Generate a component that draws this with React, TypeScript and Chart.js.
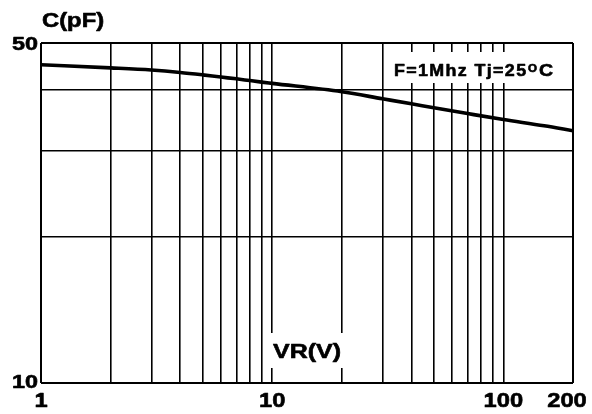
import React, { useEffect, useRef } from "react";
import { Chart, registerables } from "chart.js";

Chart.register(...registerables);

// Data (log-log capacitance curve)
const voltages = [1, 2, 3, 4, 5, 6, 7, 8, 9, 10, 20, 30, 40, 50, 70, 100, 150, 200];
const capacitance = [45.1, 44.45, 44.0, 43.5, 43.0, 42.55, 42.2, 41.85, 41.55, 41.3, 39.7, 38.4, 37.5, 36.8, 35.8, 34.8, 33.8, 33.0];

const xGridValues = [1, 2, 3, 4, 5, 6, 7, 8, 9, 10, 20, 30, 40, 50, 60, 70, 80, 90, 100, 200];
const yGridValues = [10, 20, 30, 40, 50];
const xTickLabels = [1, 10, 100, 200];
const yTickLabels = [10, 50];

const FONT = '"Liberation Sans", Arial, Helvetica, sans-serif';

function drawText(
  ctx: CanvasRenderingContext2D,
  text: string,
  x: number,
  y: number,
  size: number,
  stretch: number,
  align: "left" | "right" | "center",
  spacing = 0
) {
  ctx.save();
  ctx.font = `bold ${size}px ${FONT}`;
  (ctx as any).letterSpacing = `${spacing}px`;
  ctx.textAlign = "left";
  ctx.textBaseline = "alphabetic";
  const w = (ctx.measureText(text).width - spacing) * stretch;
  let left = x;
  if (align === "right") left = x - w;
  else if (align === "center") left = x - w / 2;
  ctx.translate(left, y);
  ctx.scale(stretch, 1);
  ctx.fillStyle = "#000";
  ctx.strokeStyle = "#000";
  ctx.lineWidth = 0.6;
  ctx.lineJoin = "round";
  ctx.fillText(text, 0, 0);
  ctx.strokeText(text, 0, 0);
  ctx.restore();
  return w;
}

const textPlugin = {
  id: "texts",
  beforeDatasetsDraw(chart: any) {
    const ctx = chart.ctx;
    ctx.save();
    ctx.fillStyle = "#fff";
    // white boxes behind the labels inside the plot
    ctx.fillRect(388, 52, 172, 31);
    ctx.fillRect(267, 333, 82, 35);
    ctx.restore();
  },
  afterDraw(chart: any) {
    const ctx = chart.ctx as CanvasRenderingContext2D;
    const xs = chart.scales.x;
    const ys = chart.scales.y;

    // axis titles
    drawText(ctx, "C(pF)", 42, 27, 20, 1.19, "left");
    drawText(ctx, "VR(V)", 273, 358, 19.5, 1.28, "left");

    // annotation
    drawText(ctx, "F=1Mhz Tj=25", 394, 76, 17, 1.05, "left", 1.3);
    drawText(ctx, "O", 528, 72, 10.5, 1.1, "left");
    drawText(ctx, "C", 539, 76, 17, 1.15, "left");

    // y tick labels
    yTickLabels.forEach((v) => {
      const py = ys.getPixelForValue(v);
      const base = v === 50 ? py + 7 : py + 5;
      drawText(ctx, String(v), 38, base, 19, 1.23, "right");
    });

    // x tick labels
    xTickLabels.forEach((v) => {
      let px = xs.getPixelForValue(v);
      if (v === 200) px -= 6;
      drawText(ctx, String(v), px, 407, 21, 1.13, "center");
    });
  },
};

export default function App() {
  const ref = useRef<HTMLCanvasElement>(null);
  useEffect(() => {
    if (!ref.current) return;
    const chart = new Chart(ref.current, {
      type: "line",
      data: {
        datasets: [
          {
            data: voltages.map((v, i) => ({ x: v, y: capacitance[i] })),
            borderColor: "#000",
            borderWidth: 3.6,
            pointRadius: 0,
            cubicInterpolationMode: "monotone",
            fill: false,
          },
        ],
      },
      options: {
        animation: false,
        responsive: false,
        layout: { padding: { left: 41, right: 19, top: 43, bottom: 31 } },
        plugins: { legend: { display: false }, tooltip: { enabled: false } },
        scales: {
          x: {
            type: "logarithmic",
            min: 1,
            max: 200,
            afterBuildTicks: (s: any) => {
              s.ticks = xGridValues.map((v) => ({ value: v }));
            },
            ticks: { display: false },
            border: { display: false },
            grid: {
              drawTicks: false,
              color: "#000",
              lineWidth: (c: any) => (c.tick && (c.tick.value === 1 || c.tick.value === 200) ? 2 : 1.6),
            },
          },
          y: {
            type: "logarithmic",
            min: 10,
            max: 50,
            afterBuildTicks: (s: any) => {
              s.ticks = yGridValues.map((v) => ({ value: v }));
            },
            ticks: { display: false },
            border: { display: false },
            grid: {
              drawTicks: false,
              color: "#000",
              lineWidth: (c: any) => (c.tick && (c.tick.value === 10 || c.tick.value === 50) ? 2 : 1.6),
            },
          },
        },
      },
      plugins: [textPlugin],
    } as any);
    return () => chart.destroy();
  }, []);
  return (
    <div style={{ position: "fixed", left: 0, top: 0, width: 592, height: 414, background: "#fff" }}>
      <canvas ref={ref} width={592} height={414} style={{ display: "block", width: 592, height: 414 }} />
    </div>
  );
}
